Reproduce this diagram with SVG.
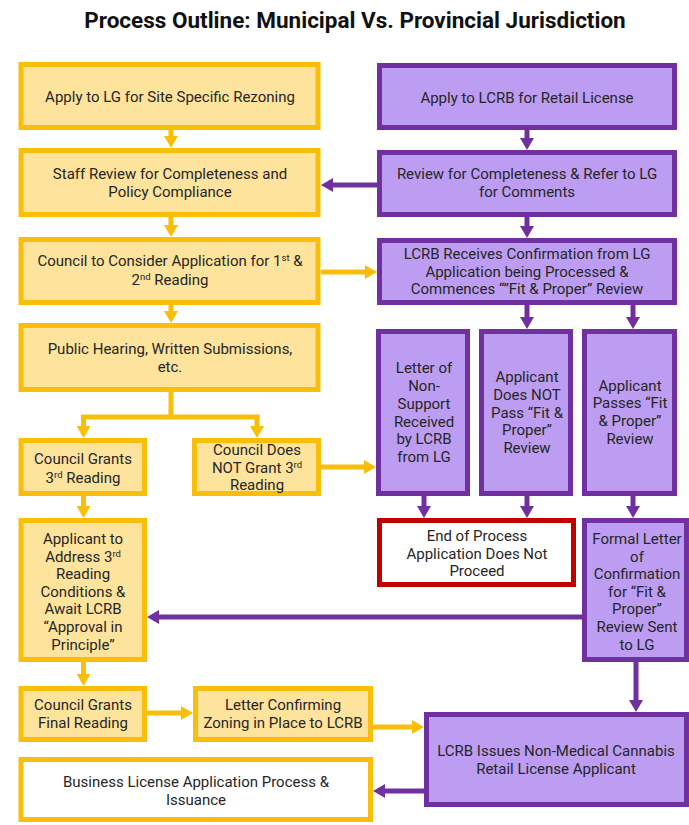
<svg xmlns="http://www.w3.org/2000/svg" width="689" height="825" viewBox="0 0 689 825">
<style>
.y{fill:#FDE39C;stroke:#F9BE0A;stroke-width:5}
.p{fill:#BC9DF2;stroke:#7030A0;stroke-width:5}
.w{fill:#FFFFFF;stroke:#F9BE0A;stroke-width:5}
.r{fill:#FFFFFF;stroke:#C00000;stroke-width:5}
text{font-family:Roboto,"Liberation Sans",sans-serif;font-size:15px;fill:#262626;text-anchor:middle}
.t{font-size:22.5px;font-weight:bold;fill:#111}
.sup{font-size:9.5px}
.cy{stroke:#F9BE0A;stroke-width:5;fill:none;marker-end:url(#ay)}
.cp{stroke:#7030A0;stroke-width:5;fill:none;marker-end:url(#ap)}
.ly{stroke:#F9BE0A;stroke-width:5;fill:none}
</style>
<defs>
<marker id="ay" markerUnits="userSpaceOnUse" markerWidth="14" markerHeight="14" refX="4" refY="7" orient="auto"><path d="M0,0 L12,7 L0,14 z" fill="#F9BE0A"/></marker>
<marker id="ap" markerUnits="userSpaceOnUse" markerWidth="14" markerHeight="14" refX="4" refY="7" orient="auto"><path d="M0,0 L12,7 L0,14 z" fill="#7030A0"/></marker>
</defs>
<rect width="689" height="825" fill="#FFFFFF"/>
<text class="t" x="355" y="28">Process Outline: Municipal Vs. Provincial Jurisdiction</text>

<g id="connectors">
<path class="cy" d="M171,130 V140"/>
<path class="cp" d="M527,130 V142"/>
<path class="cp" d="M377,185 H329"/>
<path class="cy" d="M171,217 V229"/>
<path class="cp" d="M527,217 V230"/>
<path class="cy" d="M321,272 H369"/>
<path class="cy" d="M171,305 V315"/>
<path class="ly" d="M171,392 V417 M81,417 H259.5"/>
<path class="cy" d="M83.5,415 V430"/>
<path class="cy" d="M257,415 V430"/>
<path class="cy" d="M321,467 H368"/>
<path class="cp" d="M527,305 V321"/>
<path class="cp" d="M633,305 V321"/>
<path class="cp" d="M424,496 V510"/>
<path class="cp" d="M527,496 V510"/>
<path class="cp" d="M633,496 V510"/>
<path class="cy" d="M83.5,496 V510"/>
<path class="cp" d="M582,617 H155"/>
<path class="cy" d="M83.5,662 V678"/>
<path class="cy" d="M147,713 H185"/>
<path class="cy" d="M373,727 H416"/>
<path class="cp" d="M636,662 V704"/>
<path class="cp" d="M424,791 H381"/>
</g>

<g id="apply-lg"><rect class="y" x="21" y="64.5" width="297" height="63"/><text x="170" y="101.5">Apply to LG for Site Specific Rezoning</text></g>
<g id="apply-lcrb"><rect class="p" x="379.5" y="65.5" width="295" height="62"/><text x="527" y="102.5">Apply to LCRB for Retail License</text></g>
<g id="staff-review"><rect class="y" x="21" y="150.5" width="297" height="64"/><text x="170" y="178.5">Staff Review for Completeness and</text><text x="170" y="196.5">Policy Compliance</text></g>
<g id="review-refer"><rect class="p" x="379.5" y="152.5" width="295" height="62"/><text x="527" y="178.5">Review for Completeness &amp; Refer to LG</text><text x="527" y="196.5">for Comments</text></g>
<g id="council-1-2"><rect class="y" x="21" y="239.5" width="297" height="63"/><text x="170" y="266">Council to Consider Application for 1<tspan class="sup" dy="-5">st</tspan><tspan dy="5"> &amp;</tspan></text><text x="170" y="284.5">2<tspan class="sup" dy="-5">nd</tspan><tspan dy="5"> Reading</tspan></text></g>
<g id="lcrb-receives"><rect class="p" x="379.5" y="240.5" width="295" height="62"/><text x="527" y="258.5">LCRB Receives Confirmation from LG</text><text x="527" y="276.5">Application being Processed &amp;</text><text x="527" y="294">Commences “”Fit &amp; Proper” Review</text></g>
<g id="public-hearing"><rect class="y" x="21" y="325.5" width="297" height="64"/><text x="170" y="353.5">Public Hearing, Written Submissions,</text><text x="170" y="371.5">etc.</text></g>
<g id="council-grants-3"><rect class="y" x="21" y="440.5" width="123.5" height="53"/><text x="83" y="464">Council Grants</text><text x="83" y="482.5">3<tspan class="sup" dy="-5">rd</tspan><tspan dy="5"> Reading</tspan></text></g>
<g id="council-not-3"><rect class="y" x="194.5" y="440.5" width="124" height="53"/><text x="257" y="454.5">Council Does</text><text x="257" y="472.5">NOT Grant 3<tspan class="sup" dy="-5">rd</tspan></text><text x="257" y="490">Reading</text></g>
<g id="non-support"><rect class="p" x="378.5" y="331.5" width="89" height="162"/><text x="424" y="373">Letter of</text><text x="424" y="391">Non-</text><text x="424" y="409">Support</text><text x="424" y="426.5">Received</text><text x="424" y="444">by LCRB</text><text x="424" y="462">from LG</text></g>
<g id="not-pass"><rect class="p" x="481.5" y="331.5" width="89" height="162"/><text x="527" y="382">Applicant</text><text x="527" y="400">Does NOT</text><text x="527" y="417.5">Pass “Fit &amp;</text><text x="527" y="435">Proper”</text><text x="527" y="453">Review</text></g>
<g id="passes"><rect class="p" x="584.5" y="331.5" width="90" height="162"/><text x="630" y="390.5">Applicant</text><text x="630" y="408">Passes “Fit</text><text x="630" y="426">&amp; Proper”</text><text x="630" y="443.5">Review</text></g>
<g id="address-3rd"><rect class="y" x="21" y="520.5" width="123.5" height="139"/><text x="83" y="543.5">Applicant to</text><text x="83" y="561.5">Address 3<tspan class="sup" dy="-5">rd</tspan></text><text x="83" y="579">Reading</text><text x="83" y="596.5">Conditions &amp;</text><text x="83" y="614">Await LCRB</text><text x="83" y="632">“Approval in</text><text x="83" y="649.5">Principle”</text></g>
<g id="end-process"><rect class="r" x="379.5" y="520.5" width="194" height="64"/><text x="477" y="541">End of Process</text><text x="477" y="558.5">Application Does Not</text><text x="477" y="576">Proceed</text></g>
<g id="formal-letter"><rect class="p" x="584.5" y="520.5" width="102" height="139"/><text x="637" y="543.5">Formal Letter</text><text x="637" y="561.5">of</text><text x="637" y="579">Confirmation</text><text x="637" y="596.5">for “Fit &amp;</text><text x="637" y="614">Proper”</text><text x="637" y="632">Review Sent</text><text x="637" y="649.5">to LG</text></g>
<g id="final-reading"><rect class="y" x="21" y="688.5" width="123.5" height="51"/><text x="83" y="710">Council Grants</text><text x="83" y="728">Final Reading</text></g>
<g id="letter-zoning"><rect class="y" x="195.5" y="688.5" width="175" height="51"/><text x="283" y="710">Letter Confirming</text><text x="283" y="728">Zoning in Place to LCRB</text></g>
<g id="lcrb-issues"><rect class="p" x="426.5" y="714.5" width="260" height="90"/><text x="556" y="755.5">LCRB Issues Non-Medical Cannabis</text><text x="556" y="773.5">Retail License Applicant</text></g>
<g id="business-license"><rect class="w" x="21" y="759.5" width="349.5" height="60"/><text x="196" y="787">Business License Application Process &amp;</text><text x="196" y="805">Issuance</text></g>
</svg>
